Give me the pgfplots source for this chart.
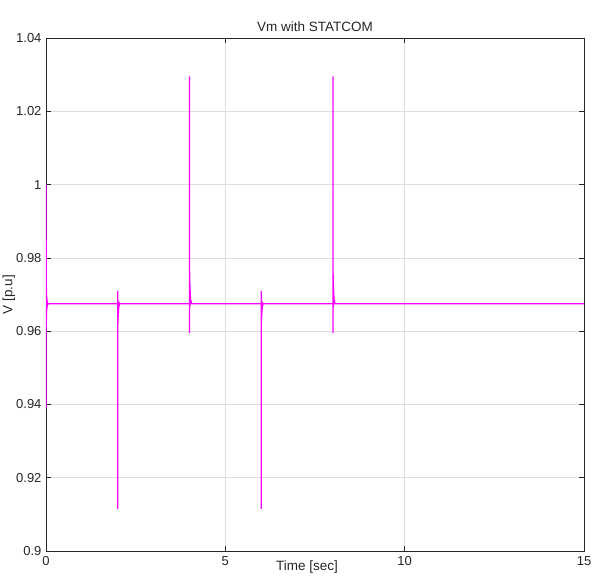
\documentclass[border=0pt]{standalone}
\usepackage{pgfplots}
\pgfplotsset{compat=1.18}
\usepackage{fontspec}
\setmainfont{Liberation Sans}
\definecolor{axgray}{rgb}{0.15,0.15,0.15}
\definecolor{gridgray}{rgb}{0.87,0.87,0.87}
\definecolor{mag}{rgb}{1,0,1}
\begin{document}
\begin{tikzpicture}
\begin{axis}[
  scale only axis,
  width=538pt, height=513pt,
  xmin=0, xmax=15, ymin=0.9, ymax=1.04,
  xtick={0,5,10,15},
  ytick={0.9,0.92,0.94,0.96,0.98,1,1.02,1.04},
  yticklabels={0.9,0.92,0.94,0.96,0.98,1,1.02,1.04},
  xticklabels={0,5,10,15},
  grid=major,
  major grid style={gridgray, line width=0.7pt},
  axis line style={axgray, line width=0.7pt},
  major tick style={axgray, line width=0.7pt},
  major tick length=5pt,
  tick align=inside,
  ticklabel style={font=\fontsize{13}{15}\selectfont, text=axgray},
  /pgf/number format/assume math mode=true,
  xticklabel style={yshift=-2pt},
  yticklabel style={xshift=-1pt},
  title={Vm with STATCOM},
  title style={font=\fontsize{13.5}{15}\selectfont, text=axgray, yshift=-3pt},
  xlabel={Time [sec]},
  xlabel style={font=\fontsize{13.5}{15}\selectfont, text=axgray, yshift=12pt, xshift=-8pt},
  ylabel={V [p.u]},
  ylabel style={font=\fontsize{13.5}{15}\selectfont, text=axgray, yshift=-6pt},
  clip=true,
]
\addplot[mag, line width=1.3pt] coordinates {
(0.0004,0.939) (0.0012,1.000) (0.0022,0.960) (0.0032,0.985) (0.0045,0.961)
(0.006,0.9745) (0.0075,0.962) (0.009,0.9725) (0.0105,0.9635) (0.012,0.9715)
(0.0135,0.9645) (0.015,0.9705) (0.018,0.9655) (0.021,0.9695) (0.024,0.9662)
(0.028,0.9688) (0.032,0.9668) (0.037,0.9682) (0.045,0.9672) (0.06,0.9675)
(1.999,0.9675) (2.0005,0.9115) (2.0025,0.9710) (2.004,0.9620) (2.0055,0.9685)
(2.007,0.9625) (2.0085,0.9683) (2.010,0.9632) (2.0115,0.9681) (2.014,0.9640)
(2.017,0.9679) (2.020,0.9650) (2.024,0.9678) (2.028,0.9660) (2.033,0.9677)
(2.040,0.9668) (2.050,0.9676) (2.06,0.9675)
(3.999,0.9675) (4.0005,1.0295) (4.0025,0.9595) (4.004,0.9760) (4.0055,0.9665)
(4.007,0.9755) (4.0085,0.9668) (4.010,0.9745) (4.0115,0.9670) (4.014,0.9730)
(4.017,0.9672) (4.020,0.9710) (4.024,0.9673) (4.028,0.9695) (4.033,0.9674)
(4.040,0.9685) (4.050,0.9676) (4.06,0.9675)
(5.999,0.9675) (6.0005,0.9115) (6.0025,0.9710) (6.004,0.9620) (6.0055,0.9685)
(6.007,0.9625) (6.0085,0.9683) (6.010,0.9632) (6.0115,0.9681) (6.014,0.9640)
(6.017,0.9679) (6.020,0.9650) (6.024,0.9678) (6.028,0.9660) (6.033,0.9677)
(6.040,0.9668) (6.050,0.9676) (6.06,0.9675)
(7.999,0.9675) (8.0005,1.0295) (8.0025,0.9595) (8.004,0.9760) (8.0055,0.9665)
(8.007,0.9755) (8.0085,0.9668) (8.010,0.9745) (8.0115,0.9670) (8.014,0.9730)
(8.017,0.9672) (8.020,0.9710) (8.024,0.9673) (8.028,0.9695) (8.033,0.9674)
(8.040,0.9685) (8.050,0.9676) (8.06,0.9675)
(15,0.9675)
};
\end{axis}
\pgfresetboundingbox
\path (current axis.south west) ++(-46pt,-32pt) coordinate (bl);
\path (current axis.north east) ++(9pt,38pt) coordinate (tr);
\path[use as bounding box] (bl) rectangle (tr);
\end{tikzpicture}
\end{document}
